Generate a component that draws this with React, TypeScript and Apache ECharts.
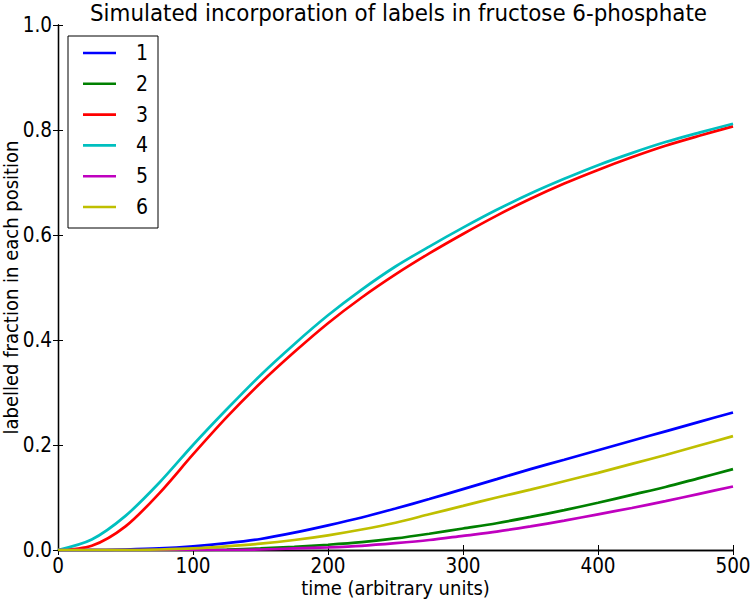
import React, { useEffect, useRef } from "react";
import * as echarts from "echarts";

const times = [0, 25, 50, 75, 100, 125, 150, 175, 200, 225, 250, 275, 300, 325, 350, 375, 400, 425, 450, 475, 500];
const pos1 = [0, 0, 0.001, 0.003, 0.007, 0.013, 0.021, 0.033, 0.047, 0.062, 0.079, 0.097, 0.116, 0.135, 0.154, 0.172, 0.19, 0.208, 0.226, 0.244, 0.262];
const pos2 = [0, 0, 0, 0, 0, 0.001, 0.003, 0.006, 0.01, 0.015, 0.022, 0.031, 0.041, 0.051, 0.063, 0.076, 0.09, 0.105, 0.12, 0.137, 0.154];
const pos3 = [0, 0.008, 0.045, 0.108, 0.182, 0.253, 0.318, 0.377, 0.432, 0.481, 0.525, 0.565, 0.602, 0.637, 0.669, 0.698, 0.724, 0.748, 0.77, 0.789, 0.807];
const pos4 = [0, 0.02, 0.065, 0.128, 0.2, 0.268, 0.333, 0.392, 0.447, 0.496, 0.54, 0.578, 0.614, 0.648, 0.679, 0.707, 0.733, 0.756, 0.777, 0.795, 0.812];
const pos5 = [0, 0, 0, 0, 0, 0, 0.001, 0.003, 0.005, 0.008, 0.013, 0.019, 0.027, 0.035, 0.045, 0.056, 0.068, 0.08, 0.093, 0.107, 0.121];
const pos6 = [0, 0, 0, 0.001, 0.003, 0.007, 0.012, 0.019, 0.028, 0.039, 0.052, 0.068, 0.084, 0.1, 0.115, 0.131, 0.147, 0.164, 0.181, 0.199, 0.217];

const seriesNames = ["1", "2", "3", "4", "5", "6"];
const seriesValues = [pos1, pos2, pos3, pos4, pos5, pos6];
const colors = ["#0000ff", "#008000", "#ff0000", "#00bfbf", "#bf00bf", "#bfbf00"];
const titleText = "Simulated incorporation of labels in fructose 6-phosphate";
const xName = "time (arbitrary units)";
const yName = "labelled fraction in each position";

const FONT = "DejaVu Sans Condensed, DejaVu Sans";

export default function App() {
  const ref = useRef<HTMLDivElement>(null);
  useEffect(() => {
    const chart = echarts.init(ref.current!, null, { renderer: "svg" });
    const tickStyle = { show: true, inside: true, length: 5, lineStyle: { color: "#000", width: 1 } };
    const lineStyle = { show: true, lineStyle: { color: "#000", width: 1.3 } };

    // legend box drawn as graphic elements
    const legendX = 68;
    const legendY = 36;
    const legendW = 90;
    const legendH = 192;
    const firstRowY = 53;
    const rowStep = 30.8;
    const legendChildren: any[] = [
      {
        type: "rect",
        shape: { x: legendX, y: legendY, width: legendW, height: legendH },
        style: { fill: "#fff", stroke: "#000", lineWidth: 1 },
      },
    ];
    seriesNames.forEach((name, i) => {
      const y = firstRowY + i * rowStep;
      legendChildren.push({
        type: "line",
        shape: { x1: 83, y1: y, x2: 116, y2: y },
        style: { stroke: colors[i], lineWidth: 2.6 },
      });
      legendChildren.push({
        type: "text",
        x: 136,
        y: y,
        style: {
          text: name,
          fontFamily: FONT,
          fontSize: 21,
          fill: "#000",
          textAlign: "left",
          textVerticalAlign: "middle",
        },
      });
    });

    chart.setOption({
      animation: false,
      backgroundColor: "#fff",
      title: {
        text: titleText,
        left: 90,
        top: 1,
        padding: 0,
        textStyle: { fontFamily: FONT, fontSize: 23.8, lineHeight: 24, fontWeight: "normal", color: "#000" },
      },
      graphic: [{ type: "group", z: 100, children: legendChildren }],
      grid: { left: 58, right: 19, top: 25, bottom: 50, containLabel: false, outerBoundsMode: "none" },
      xAxis: [
        {
          type: "value",
          min: 0,
          max: 500,
          interval: 100,
          name: xName,
          nameLocation: "middle",
          nameGap: 28,
          nameMoveOverlap: false,
          nameTextStyle: { fontFamily: FONT, fontSize: 20, color: "#000" },
          axisLine: lineStyle,
          axisTick: tickStyle,
          splitLine: { show: false },
          axisLabel: { fontFamily: FONT, fontSize: 20.5, color: "#000", margin: 5 },
        },
        {
          type: "value",
          position: "top",
          min: 0,
          max: 500,
          interval: 100,
          axisLine: lineStyle,
          axisTick: tickStyle,
          splitLine: { show: false },
          axisLabel: { show: false },
        },
      ],
      yAxis: [
        {
          type: "value",
          min: 0,
          max: 1,
          interval: 0.2,
          name: yName,
          nameLocation: "middle",
          nameGap: 37,
          nameMoveOverlap: false,
          nameTextStyle: { fontFamily: FONT, fontSize: 20, color: "#000" },
          axisLine: lineStyle,
          axisTick: tickStyle,
          splitLine: { show: false },
          axisLabel: {
            fontFamily: FONT,
            fontSize: 20.5,
            color: "#000",
            margin: 6,
            formatter: (v: number) => v.toFixed(1),
          },
        },
        {
          type: "value",
          position: "right",
          min: 0,
          max: 1,
          interval: 0.2,
          axisLine: lineStyle,
          axisTick: tickStyle,
          splitLine: { show: false },
          axisLabel: { show: false },
        },
      ],
      series: seriesNames.map((name, i) => ({
        name,
        type: "line",
        xAxisIndex: 0,
        yAxisIndex: 0,
        data: times.map((t, j) => [t, seriesValues[i][j]]),
        showSymbol: false,
        symbol: "none",
        smooth: 0.3,
        clip: true,
        color: colors[i],
        lineStyle: { color: colors[i], width: 2.7 },
      })),
    });
    return () => chart.dispose();
  }, []);
  return <div ref={ref} style={{ width: 752, height: 600, position: "absolute", left: 0, top: 0 }} />;
}
